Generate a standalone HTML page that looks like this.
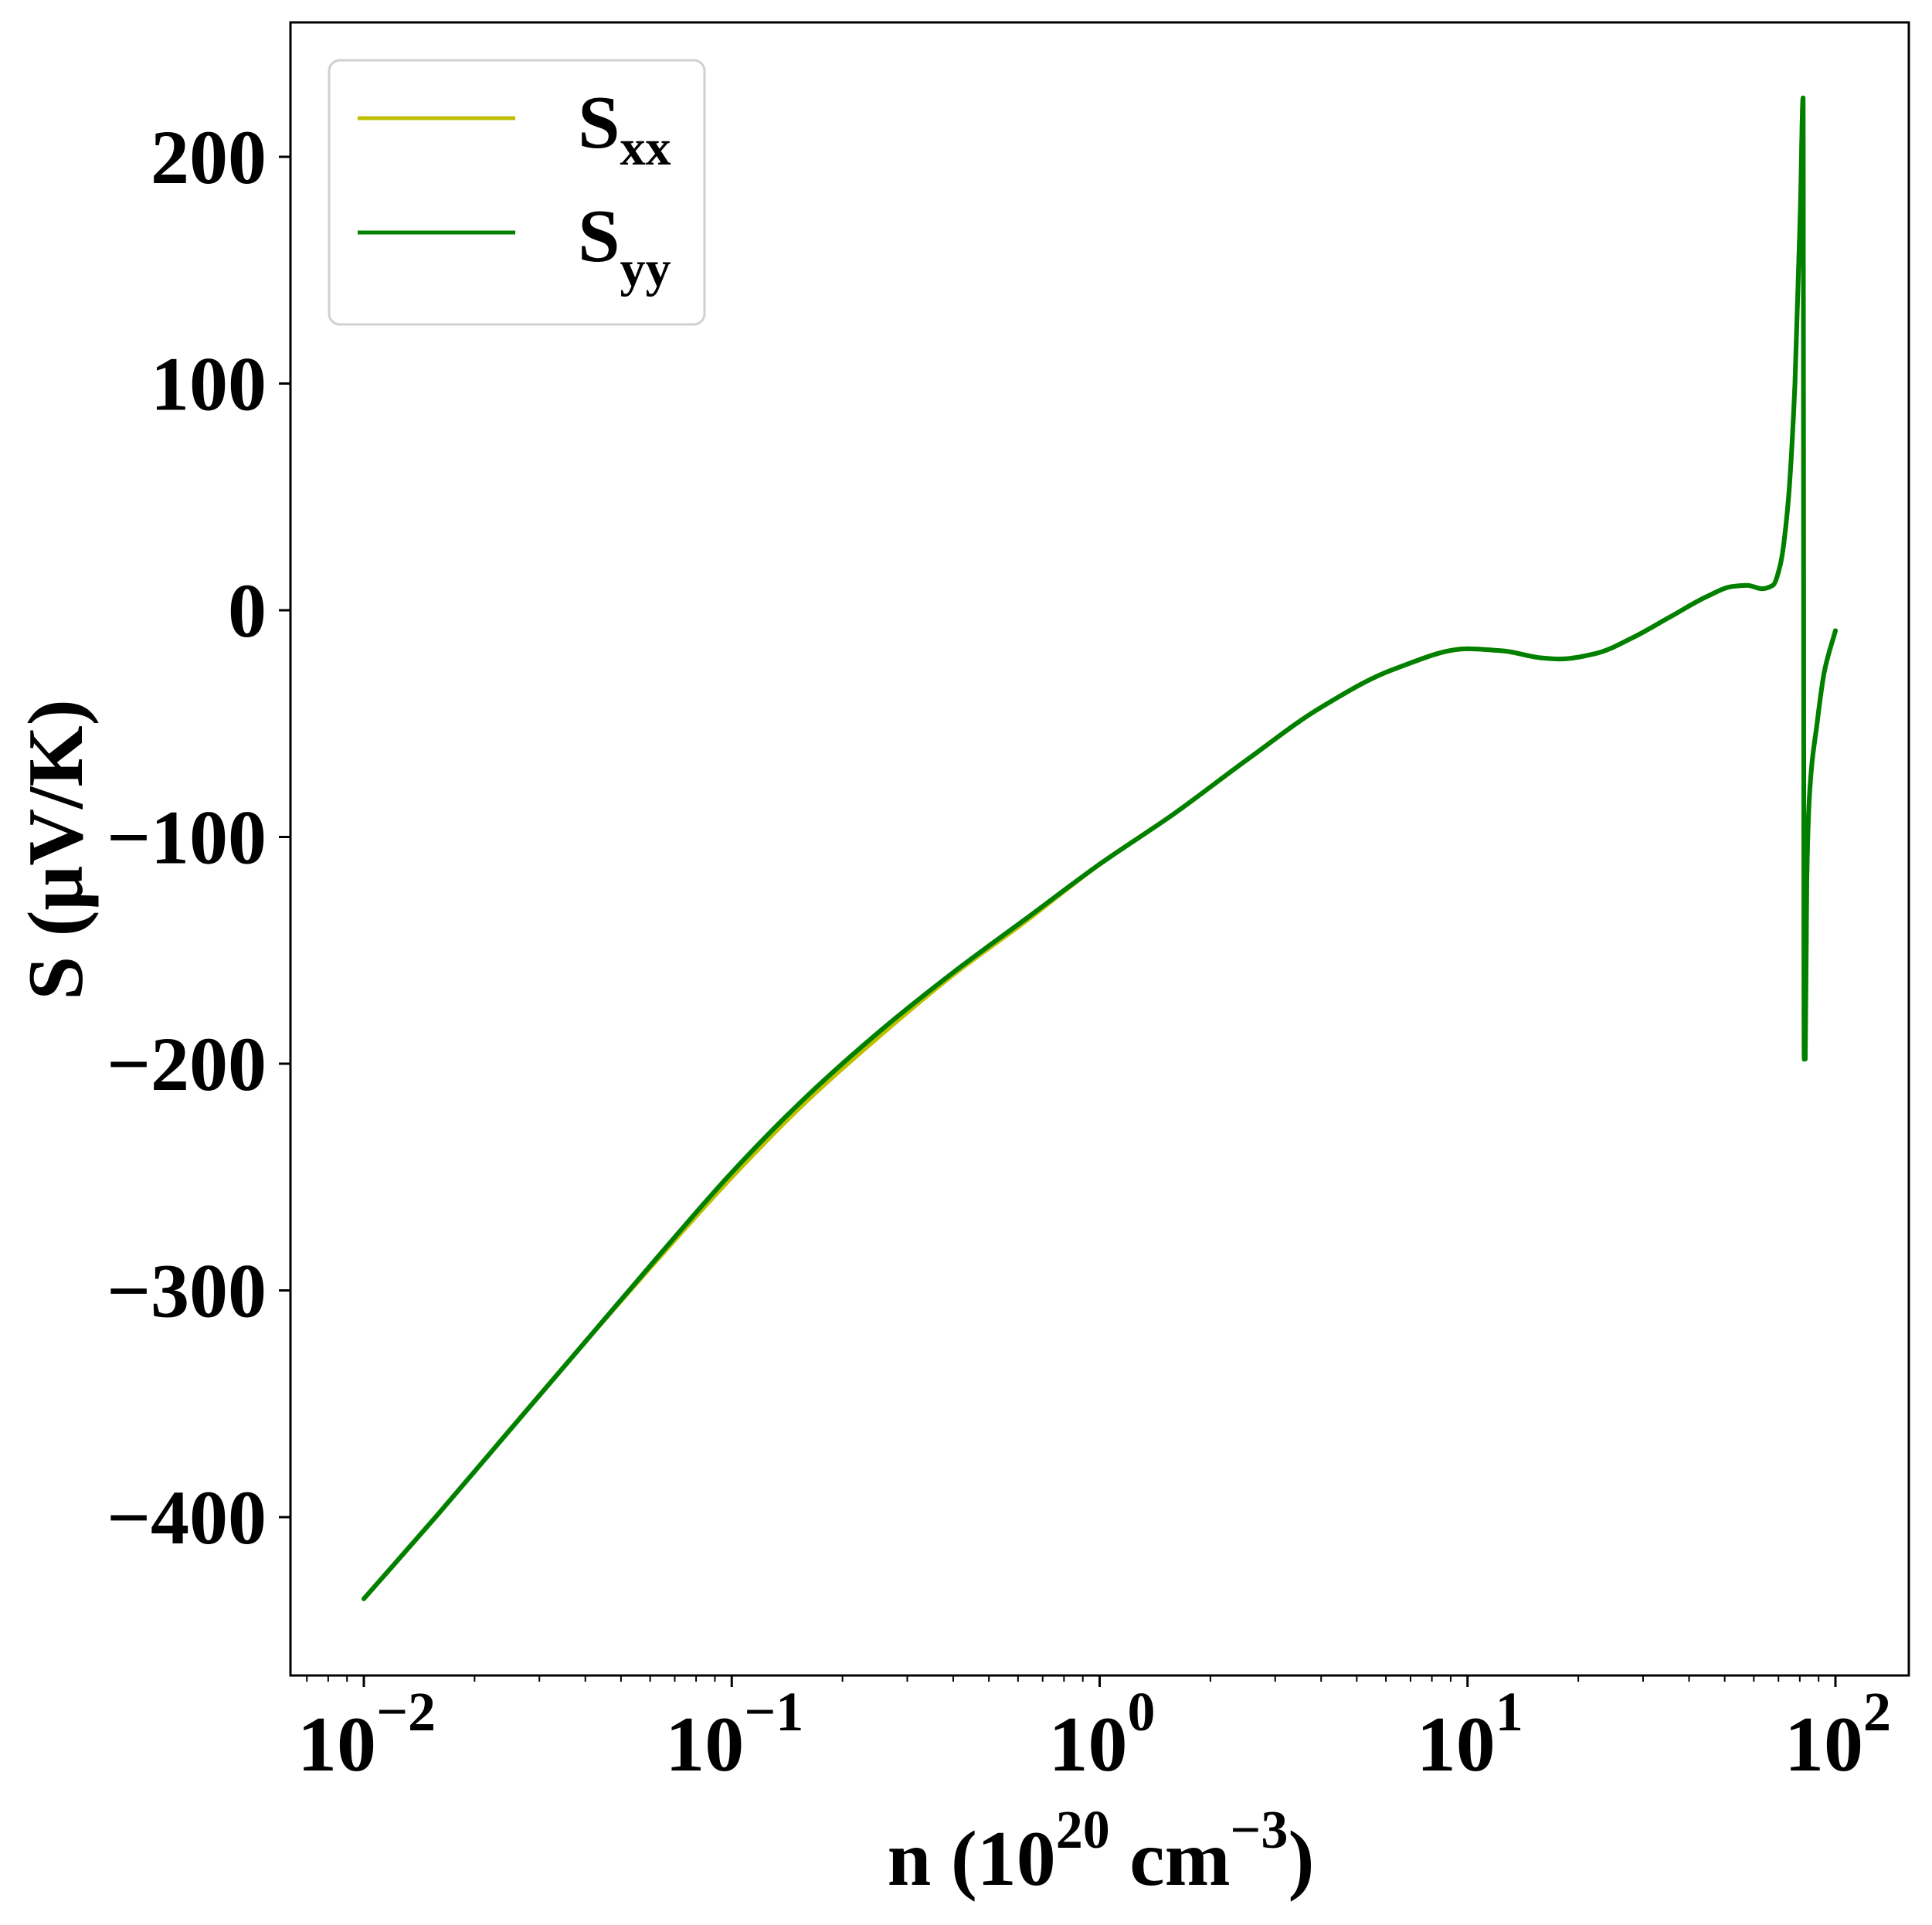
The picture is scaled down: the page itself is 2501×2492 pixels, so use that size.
<!DOCTYPE html>
<html><head><meta charset="utf-8"><style>
html,body{margin:0;padding:0;background:#fff;}
svg{display:block;font-family:"Liberation Serif",serif;font-weight:bold;}
</style></head>
<body>
<svg id="chart" width="2501" height="2492" viewBox="0 0 2501 2492" xmlns="http://www.w3.org/2000/svg">
<g id="marks"></g>
<g id="axes"></g>
<g>
<rect x="426" y="78" width="486" height="342" rx="14" fill="#fff" stroke="#d0d0d0" stroke-width="3"/>
<line x1="463" y1="153" x2="667" y2="153" stroke="#bfbf00" stroke-width="5"/>
<text x="748" y="191" font-size="98">S<tspan font-size="66" dy="22">xx</tspan></text>
<line x1="463" y1="301" x2="667" y2="301" stroke="#008000" stroke-width="5"/>
<text x="748" y="338" font-size="98">S<tspan font-size="66" dy="32">yy</tspan></text>
</g>
<text x="1425" y="2440" font-size="102" text-anchor="middle">n (10<tspan font-size="70" dy="-48">20</tspan><tspan dy="48"> cm</tspan><tspan font-size="70" dy="-48">−3</tspan><tspan dy="48">)</tspan></text>
<text transform="translate(106,1100) rotate(-90)" font-size="102" text-anchor="middle">S (μV/K)</text>
</svg>
<script>
const logN = [-2.0,-1.8,-1.6,-1.4,-1.2,-1.0,-0.8,-0.6,-0.4,-0.2,0.0,0.2,0.4,0.6,0.8,1.0,1.1,1.2,1.25,1.35,1.45,1.55,1.65,1.72,1.76,1.8,1.83,1.85,1.87,1.89,1.905,1.912,1.915,1.918,1.922,1.93,1.95,1.97,2.0];
const syyVals = [-436,-399,-361,-323,-285,-248,-215,-186,-160,-136,-112,-90,-66,-43,-26,-17,-18,-21,-21.5,-19,-12,-3,6,10.5,11,9.5,11,20,45,100,180,226,-198,-198,-120,-80,-50,-27,-9];
const sxxVals = [-436,-399,-361,-323,-286,-250,-217,-188,-161,-137,-112,-90,-66,-43,-26,-17,-18,-21,-21.5,-19,-12,-3,6,10.5,11,9.5,11,20,45,100,180,226,-198,-198,-120,-80,-50,-27,-9];
const xDecades = [-2,-1,0,1,2];
const yTicks = [-400,-300,-200,-100,0,100,200];

const L=376,R=2471,T=29,B=2169;
function xs(l){return 471+(l+2)*476.25;}
function ys(v){return 790-v*2.935;}
const NS='http://www.w3.org/2000/svg';
function mk(tag,attrs,parent){const e=document.createElementNS(NS,tag);for(const k in attrs)e.setAttribute(k,attrs[k]);parent.appendChild(e);return e;}
const marks=document.getElementById('marks'), axes=document.getElementById('axes');
function monoPath(X,Y){
  const n=X.length,d=[],m=[];
  for(let i=0;i<n-1;i++)d.push((Y[i+1]-Y[i])/(X[i+1]-X[i]));
  m[0]=d[0];m[n-1]=d[n-2];
  for(let i=1;i<n-1;i++){m[i]=(d[i-1]*d[i]<=0)?0:(3*(X[i+1]-X[i-1]))/((2*X[i+1]-X[i]-X[i-1])/d[i-1]+(X[i+1]+X[i]-2*X[i-1])/d[i]);}
  let s='M'+X[0].toFixed(1)+','+Y[0].toFixed(1);
  for(let i=0;i<n-1;i++){const h=(X[i+1]-X[i])/3;
    s+='C'+(X[i]+h).toFixed(1)+','+(Y[i]+m[i]*h).toFixed(1)+' '+(X[i+1]-h).toFixed(1)+','+(Y[i+1]-m[i+1]*h).toFixed(1)+' '+X[i+1].toFixed(1)+','+Y[i+1].toFixed(1);}
  return s;
}
function path(vals,color,name){
  const d=monoPath(logN.map(xs),vals.map(ys));
  const p=mk('path',{d:d,fill:'none',stroke:color,'stroke-width':6,'stroke-linejoin':'round','stroke-linecap':'round'},marks);
  
  
}
path(sxxVals,'#bfbf00','series-sxx');
path(syyVals,'#008000','series-syy');
const fr=mk('rect',{x:L,y:T,width:R-L,height:B-T,fill:'none',stroke:'#000','stroke-width':3},axes);


for(let dec=-3;dec<=2;dec++){
  for(let m=1;m<10;m++){
    const l=dec+Math.log10(m);const x=xs(l);
    if(x<L||x>R)continue;
    const major=m===1;
    const t=mk('line',{x1:x,y1:B,x2:x,y2:B+(major?15:8),stroke:'#000','stroke-width':major?3:2},axes);
    
    
  }
}
xDecades.forEach(d=>{
  const tx=mk('text',{x:xs(d)-(d<0?86:66),y:2292,'font-size':102},axes);
  
  
  tx.innerHTML='10<tspan font-size="72" dy="-52">'+(d<0?'−'+(-d):d)+'</tspan>';
});
yTicks.forEach(v=>{
  const y=ys(v);
  const t=mk('line',{x1:L-15,y1:y,x2:L,y2:y,stroke:'#000','stroke-width':3},axes);
  
  
  const tx=mk('text',{x:345,y:y+34,'font-size':100,'text-anchor':'end'},axes);
  
  
  tx.textContent=(v<0?'−'+(-v):String(v));
});
</script>
</body></html>
